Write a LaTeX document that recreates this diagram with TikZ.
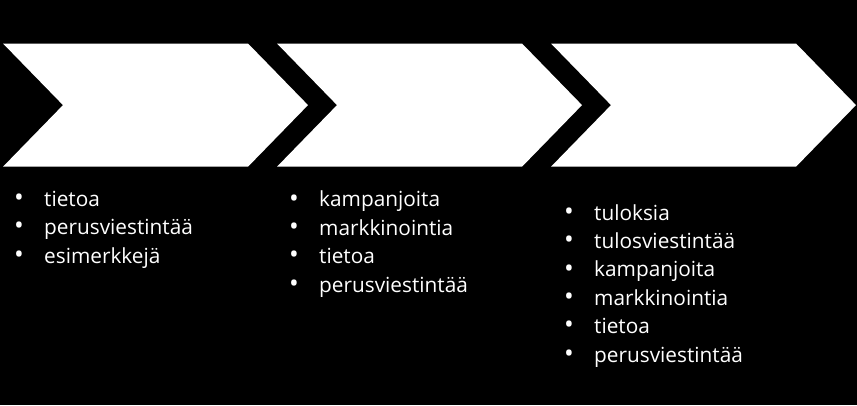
\documentclass[tikz,border=0pt]{standalone}
\usepackage{fontspec}
\setmainfont{Open Sans}
\newcommand{\blt}{\makebox[30bp][l]{\raisebox{-0.3bp}{\scalebox{1.25}{\textbullet}}}}

\begin{document}
\begin{tikzpicture}[x=1bp, y=1bp]
\tikzset{chevron/.style={fill=white},
  lista/.style={text=white, align=left, anchor=base west, inner sep=0pt,
    font=\fontsize{20.8bp}{28.4bp}\selectfont}}
\fill[black] (0, 0) rectangle (857, 405);
\fill[chevron] (3, 361.5) -- (248, 361.5) -- (308, 299.9) -- (248, 238.3) -- (3, 238.3) -- (63, 299.9) -- cycle;
\fill[chevron] (277, 361.5) -- (522, 361.5) -- (582, 299.9) -- (522, 238.3) -- (277, 238.3) -- (337, 299.9) -- cycle;
\fill[chevron] (551, 361.5) -- (796, 361.5) -- (856, 299.9) -- (796, 238.3) -- (551, 238.3) -- (611, 299.9) -- cycle;
% base anchor sits on the last line
\node[lista] (L1) at (14, 142) {\blt tietoa\\ \blt perusviestintää\\ \blt esimerkkejä};
\node[lista] (L2) at (289, 113) {\blt kampanjoita\\ \blt markkinointia\\ \blt tietoa\\ \blt perusviestintää};
\node[lista] (L3) at (564, 43) {\blt tuloksia\\ \blt tulosviestintää\\ \blt kampanjoita\\ \blt markkinointia\\ \blt tietoa\\ \blt perusviestintää};
\end{tikzpicture}
\end{document}
